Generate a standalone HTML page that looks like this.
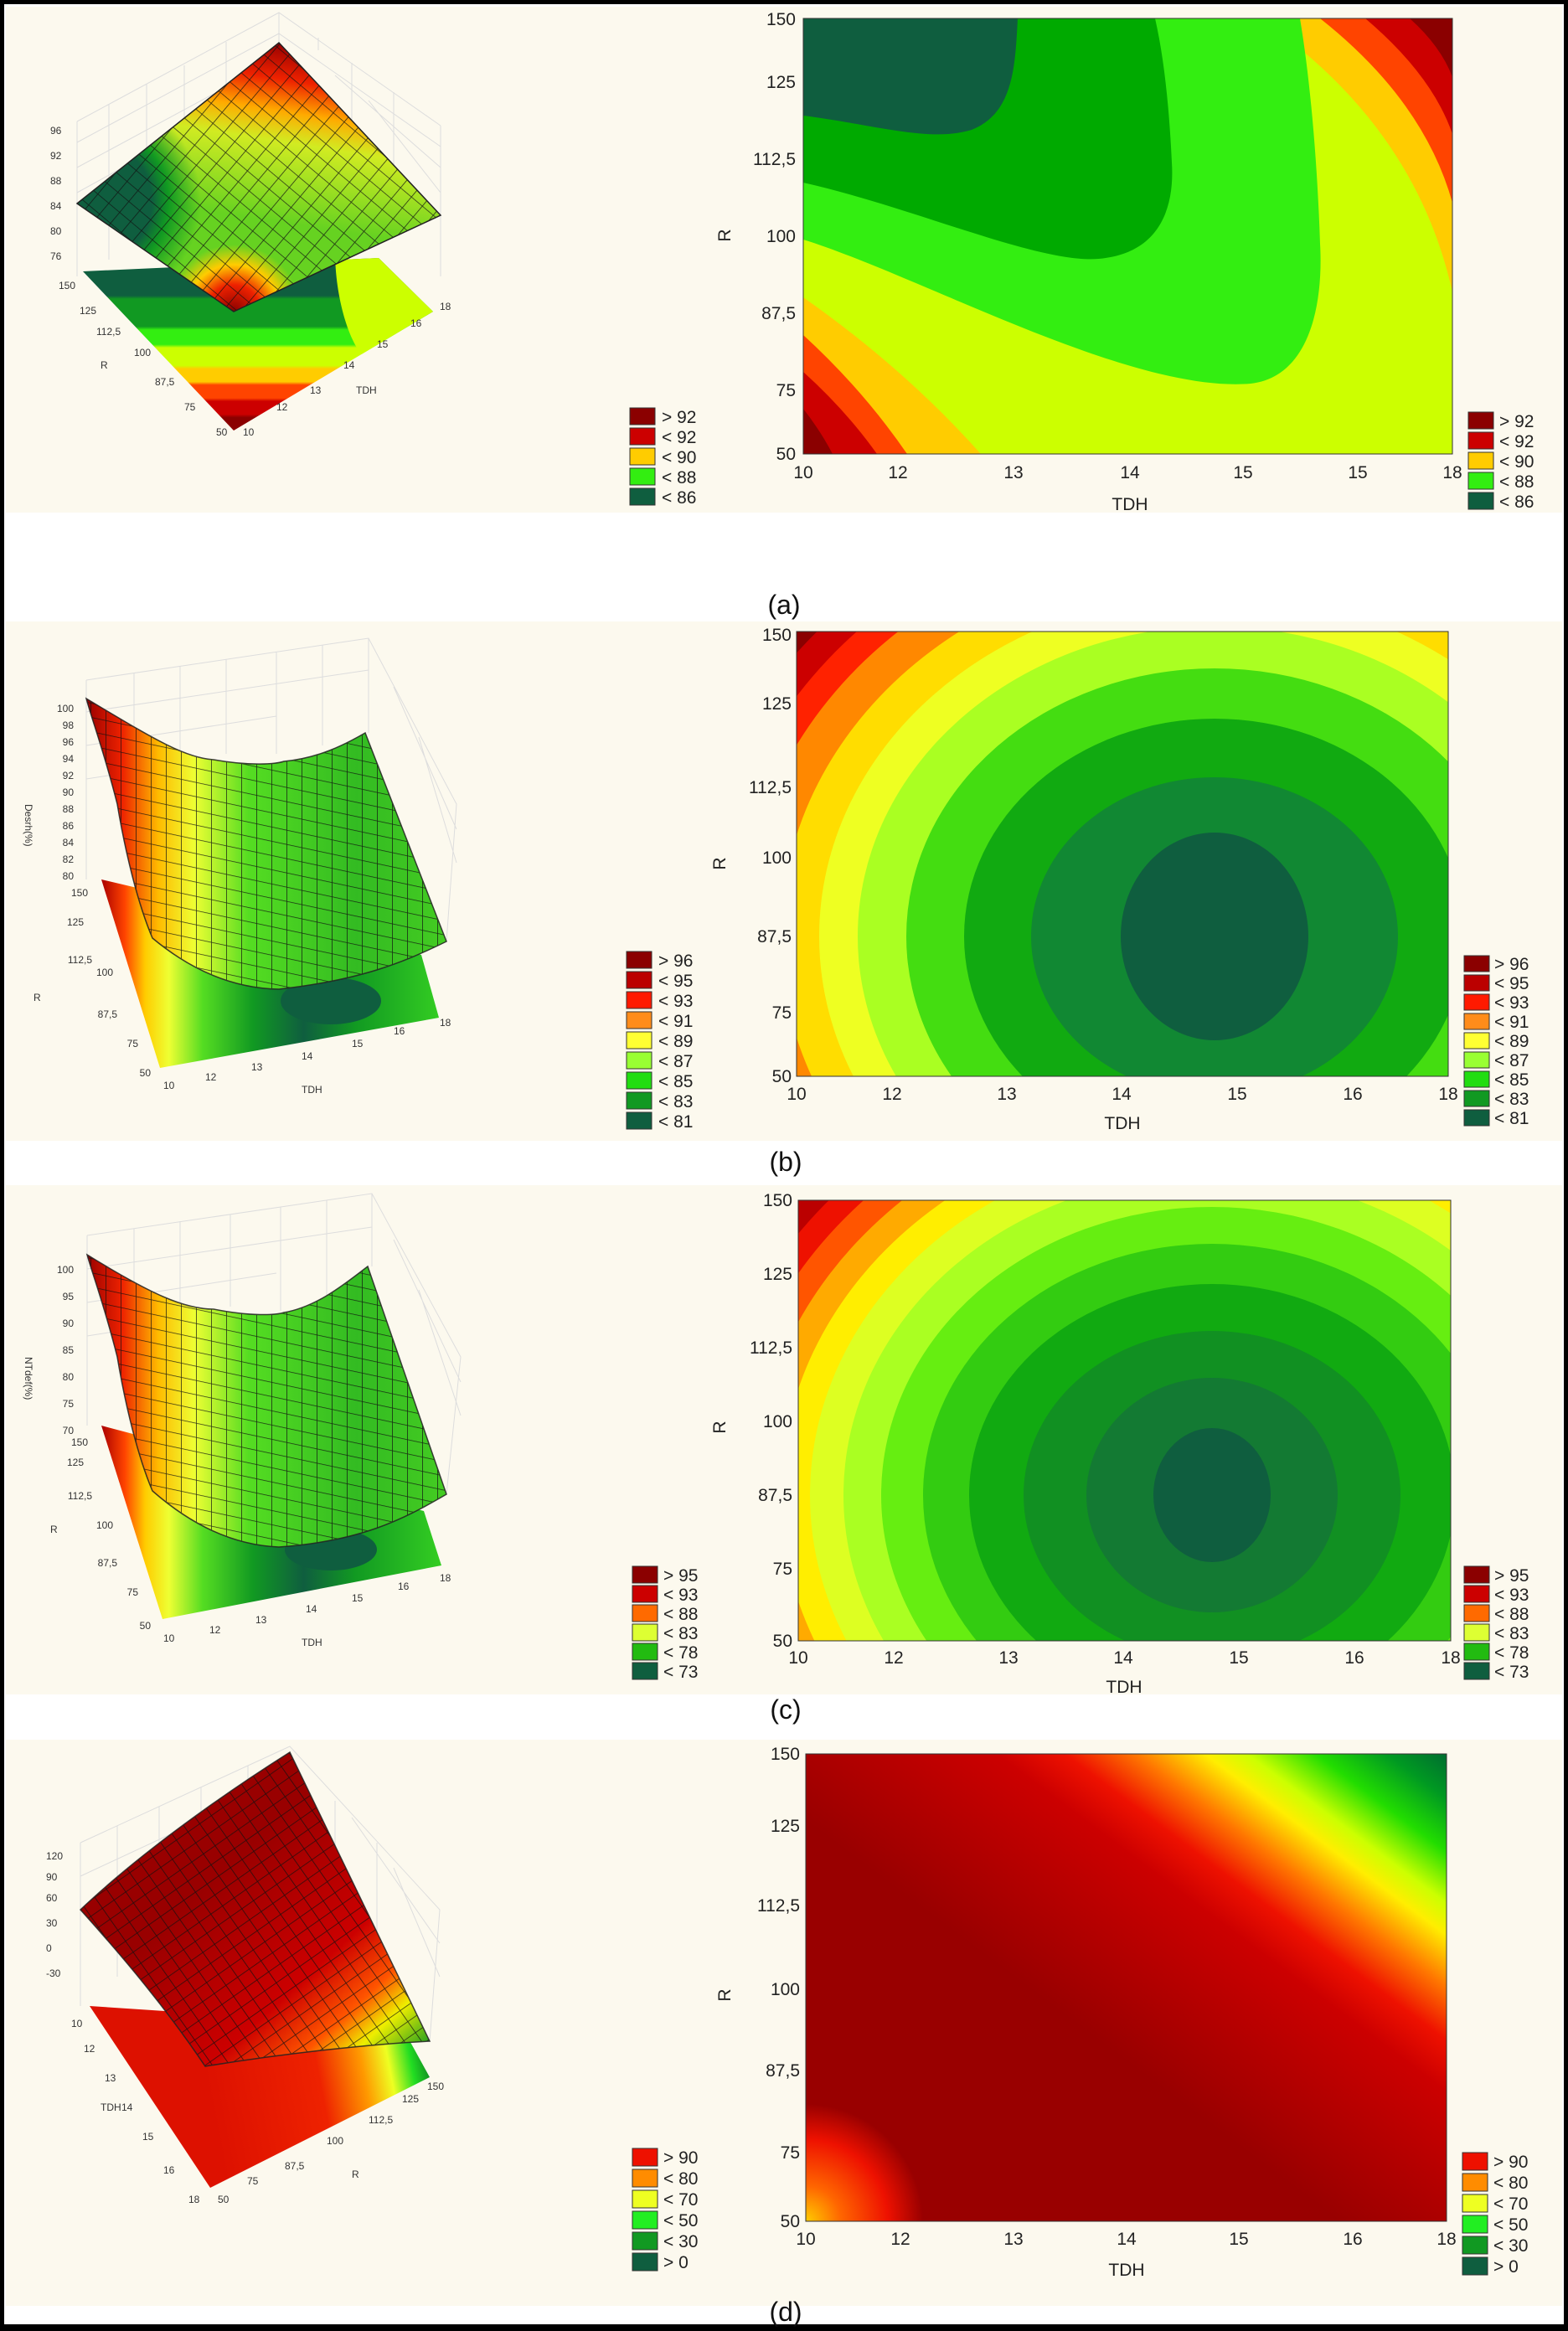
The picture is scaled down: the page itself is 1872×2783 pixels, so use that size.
<!DOCTYPE html>
<html><head><meta charset="utf-8"><style>
html,body{margin:0;padding:0;background:#fff;}
svg{display:block;}
text{font-family:"Liberation Sans",sans-serif;}
</style></head><body>
<svg width="1872" height="2783" viewBox="0 0 1872 2783" xmlns="http://www.w3.org/2000/svg">
<defs>
<pattern id="gridA" width="17" height="17" patternUnits="userSpaceOnUse" patternTransform="rotate(40)"><path d="M0 0H17M0 0V17" stroke="#111" stroke-width="1.6" fill="none"/></pattern>
<pattern id="gridB" width="18" height="17" patternUnits="userSpaceOnUse" patternTransform="skewY(12)"><path d="M0 0H18M0 0V17" stroke="#111" stroke-width="1.6" fill="none"/></pattern>
<pattern id="gridD" width="17" height="16" patternUnits="userSpaceOnUse" patternTransform="rotate(-35)"><path d="M0 0H17M0 0V16" stroke="#111" stroke-width="1.6" fill="none"/></pattern>
<clipPath id="cA"><rect x="959" y="22" width="775" height="520"/></clipPath>
<clipPath id="cB"><rect x="951" y="754" width="778" height="531"/></clipPath>
<clipPath id="cC"><rect x="953" y="1433" width="779" height="526"/></clipPath>
<clipPath id="cAf"><path d="M99,324 L452,308 L517,372 L279,514Z"/></clipPath>
<linearGradient id="fA" gradientUnits="userSpaceOnUse" x1="0" y1="320" x2="0" y2="514">
<stop offset="0" stop-color="#0f5e3f"/><stop offset="0.17" stop-color="#0f5e3f"/><stop offset="0.19" stop-color="#119922"/><stop offset="0.36" stop-color="#119922"/><stop offset="0.38" stop-color="#33ee11"/><stop offset="0.47" stop-color="#33ee11"/><stop offset="0.49" stop-color="#ccff00"/><stop offset="0.6" stop-color="#ccff00"/><stop offset="0.62" stop-color="#ffcc00"/><stop offset="0.7" stop-color="#ffcc00"/><stop offset="0.72" stop-color="#ff4400"/><stop offset="0.8" stop-color="#ff4400"/><stop offset="0.82" stop-color="#cc0000"/><stop offset="0.9" stop-color="#cc0000"/><stop offset="0.92" stop-color="#8b0000"/><stop offset="1" stop-color="#8b0000"/></linearGradient>
<linearGradient id="sA" gradientUnits="userSpaceOnUse" x1="333" y1="51" x2="300" y2="260">
<stop offset="0" stop-color="#990000"/><stop offset="0.2" stop-color="#ee2200"/><stop offset="0.38" stop-color="#ffaa00"/><stop offset="0.55" stop-color="#ddee22" stop-opacity="0.9"/><stop offset="1" stop-color="#ddee22" stop-opacity="0"/></linearGradient>
<radialGradient id="sA2" gradientUnits="userSpaceOnUse" cx="110" cy="240" r="130"><stop offset="0" stop-color="#0f5e3f"/><stop offset="0.55" stop-color="#0f5e3f"/><stop offset="0.7" stop-color="#119922"/><stop offset="1" stop-color="#119922" stop-opacity="0"/></radialGradient>
<radialGradient id="sA3" gradientUnits="userSpaceOnUse" cx="279" cy="372" r="80"><stop offset="0" stop-color="#8b0000"/><stop offset="0.4" stop-color="#ee2200"/><stop offset="0.7" stop-color="#ffcc00"/><stop offset="1" stop-color="#ffcc00" stop-opacity="0"/></radialGradient>
<linearGradient id="sB" gradientUnits="userSpaceOnUse" x1="103" y1="0" x2="533" y2="0">
<stop offset="0" stop-color="#990000"/><stop offset="0.1" stop-color="#ee2200"/><stop offset="0.2" stop-color="#ffbb00"/><stop offset="0.3" stop-color="#eeff33"/><stop offset="0.45" stop-color="#55dd22"/><stop offset="0.75" stop-color="#33bb22"/><stop offset="1" stop-color="#44cc22"/></linearGradient>
<radialGradient id="sB2" gradientUnits="userSpaceOnUse" cx="340" cy="1130" r="170"><stop offset="0" stop-color="#0f5e3f"/><stop offset="0.5" stop-color="#137a33"/><stop offset="1" stop-color="#137a33" stop-opacity="0"/></radialGradient>
<linearGradient id="fB" gradientUnits="userSpaceOnUse" x1="121" y1="0" x2="524" y2="0">
<stop offset="0" stop-color="#aa0000"/><stop offset="0.07" stop-color="#ff4400"/><stop offset="0.13" stop-color="#ffcc00"/><stop offset="0.2" stop-color="#eeff33"/><stop offset="0.3" stop-color="#55dd22"/><stop offset="0.45" stop-color="#119922"/><stop offset="0.6" stop-color="#0f5e3f"/><stop offset="0.75" stop-color="#119922"/><stop offset="1" stop-color="#33cc22"/></linearGradient>
<linearGradient id="gD" gradientUnits="userSpaceOnUse" x1="1229" y1="2374" x2="1547" y2="1950">
<stop offset="0" stop-color="#990000"/><stop offset="0.377" stop-color="#cc0000"/><stop offset="0.47" stop-color="#ee1100"/><stop offset="0.566" stop-color="#ff7700"/><stop offset="0.66" stop-color="#ffee00"/><stop offset="0.717" stop-color="#ccff00"/><stop offset="0.81" stop-color="#22dd00"/><stop offset="0.906" stop-color="#009922"/><stop offset="1" stop-color="#006633"/></linearGradient>
<radialGradient id="gD2" gradientUnits="userSpaceOnUse" cx="962" cy="2652" r="140"><stop offset="0" stop-color="#ffcc00"/><stop offset="0.3" stop-color="#ff6600"/><stop offset="0.7" stop-color="#ee1100"/><stop offset="1" stop-color="#ee1100" stop-opacity="0"/></radialGradient>
<linearGradient id="sD" gradientUnits="userSpaceOnUse" x1="300" y1="2200" x2="520" y2="2440">
<stop offset="0" stop-color="#990000"/><stop offset="0.5" stop-color="#cc0000"/><stop offset="0.7" stop-color="#ff5500"/><stop offset="0.82" stop-color="#eeee00"/><stop offset="1" stop-color="#119922"/></linearGradient>
<linearGradient id="fD" gradientUnits="userSpaceOnUse" x1="250" y1="2500" x2="510" y2="2450">
<stop offset="0" stop-color="#dd1100"/><stop offset="0.5" stop-color="#ee2200"/><stop offset="0.7" stop-color="#ff9900"/><stop offset="0.82" stop-color="#eeff22"/><stop offset="0.92" stop-color="#22dd22"/><stop offset="1" stop-color="#118822"/></linearGradient>
</defs>

<rect x="0" y="0" width="1872" height="2783" fill="#000"/>
<rect x="5" y="5" width="1862" height="2770" fill="#fff"/>
<rect x="7" y="8" width="1858" height="604" fill="#fcf9ee"/>
<rect x="7" y="742" width="1858" height="620" fill="#fcf9ee"/>
<rect x="7" y="1415" width="1858" height="608" fill="#fcf9ee"/>
<rect x="7" y="2077" width="1858" height="676" fill="#fcf9ee"/>

<g font-size="32" fill="#111" text-anchor="middle">
<text x="936" y="733">(a)</text>
<text x="938" y="1398">(b)</text>
<text x="938" y="2052">(c)</text>
<text x="938" y="2771">(d)</text>
</g>

<!-- ===== Panel A contour ===== -->
<g clip-path="url(#cA)">
<rect x="959" y="22" width="775" height="520" fill="#ccff00"/>
<path d="M959,355 Q1080,440 1171,542 L959,542Z" fill="#ffcc00"/>
<path d="M959,400 Q1030,465 1083,542 L959,542Z" fill="#ff4400"/>
<path d="M959,444 Q1010,490 1047,542 L959,542Z" fill="#cc0000"/>
<path d="M959,488 Q980,515 994,542 L959,542Z" fill="#8b0000"/>
<path d="M1504,22 Q1690,150 1734,349 L1734,22Z" fill="#ffcc00"/>
<path d="M1576,22 Q1700,120 1734,242 L1734,22Z" fill="#ff4400"/>
<path d="M1630,22 Q1710,90 1734,160 L1734,22Z" fill="#cc0000"/>
<path d="M1683,22 Q1720,55 1734,92 L1734,22Z" fill="#8b0000"/>
<path d="M959,286 C1100,330 1350,470 1493,458 C1565,450 1580,360 1576,291 C1573,200 1565,100 1552,22 L959,22Z" fill="#33ee11"/>
<path d="M959,218 C1100,250 1250,320 1320,308 C1390,298 1402,240 1399,194 C1396,130 1390,70 1379,22 L959,22Z" fill="#00aa00"/>
<path d="M959,138 C1050,150 1110,170 1160,155 C1210,135 1212,80 1215,22 L959,22Z" fill="#0f5e3f"/>
</g>
<rect x="959" y="22" width="775" height="520" fill="none" stroke="#333" stroke-width="1"/>

<!-- ===== Panel B contour ===== -->
<g clip-path="url(#cB)">
<rect x="951" y="754" width="778" height="531" fill="#8b0000"/>
<ellipse cx="1450" cy="1118" rx="633" ry="550" fill="#cc0000"/>
<ellipse cx="1450" cy="1118" rx="598" ry="520" fill="#ff2200"/>
<ellipse cx="1450" cy="1118" rx="564" ry="490" fill="#ff8800"/>
<ellipse cx="1450" cy="1118" rx="518" ry="450" fill="#ffdd00"/>
<ellipse cx="1450" cy="1118" rx="472" ry="410" fill="#eeff22"/>
<ellipse cx="1450" cy="1118" rx="426" ry="370" fill="#aaff22"/>
<ellipse cx="1450" cy="1118" rx="368" ry="320" fill="#44dd11"/>
<ellipse cx="1450" cy="1118" rx="299" ry="260" fill="#11aa11"/>
<ellipse cx="1450" cy="1118" rx="219" ry="190" fill="#118833"/>
<ellipse cx="1450" cy="1118" rx="112" ry="124" fill="#0f5e3f"/>
</g>
<rect x="951" y="754" width="778" height="531" fill="none" stroke="#333" stroke-width="1"/>

<!-- ===== Panel C contour ===== -->
<g clip-path="url(#cC)">
<rect x="953" y="1433" width="779" height="526" fill="#8b0000"/>
<ellipse cx="1447" cy="1785" rx="640" ry="560" fill="#bb0000"/>
<ellipse cx="1447" cy="1785" rx="610" ry="532" fill="#ee1100"/>
<ellipse cx="1447" cy="1785" rx="580" ry="505" fill="#ff5500"/>
<ellipse cx="1447" cy="1785" rx="548" ry="477" fill="#ffaa00"/>
<ellipse cx="1447" cy="1785" rx="515" ry="448" fill="#ffee00"/>
<ellipse cx="1447" cy="1785" rx="480" ry="418" fill="#ddff22"/>
<ellipse cx="1447" cy="1785" rx="440" ry="383" fill="#aaff22"/>
<ellipse cx="1447" cy="1785" rx="395" ry="344" fill="#66ee11"/>
<ellipse cx="1447" cy="1785" rx="345" ry="300" fill="#33cc11"/>
<ellipse cx="1447" cy="1785" rx="290" ry="252" fill="#11aa11"/>
<ellipse cx="1447" cy="1785" rx="225" ry="196" fill="#119022"/>
<ellipse cx="1447" cy="1785" rx="150" ry="140" fill="#137a33"/>
<ellipse cx="1447" cy="1785" rx="70" ry="80" fill="#0f5e3f"/>
</g>
<rect x="953" y="1433" width="779" height="526" fill="none" stroke="#333" stroke-width="1"/>

<!-- ===== Panel D contour ===== -->
<rect x="962" y="2094" width="765" height="558" fill="url(#gD)"/>
<rect x="962" y="2094" width="765" height="558" fill="url(#gD2)"/>
<rect x="962" y="2094" width="765" height="558" fill="none" stroke="#333" stroke-width="1"/>

<g font-size="21" fill="#222" text-anchor="end">
<text x="950" y="30">150</text><text x="950" y="105">125</text><text x="950" y="197">112,5</text><text x="950" y="289">100</text><text x="950" y="381">87,5</text><text x="950" y="473">75</text><text x="950" y="549">50</text>
<text x="945" y="765">150</text><text x="945" y="847">125</text><text x="945" y="947">112,5</text><text x="945" y="1031">100</text><text x="945" y="1125">87,5</text><text x="945" y="1216">75</text><text x="945" y="1292">50</text>
<text x="946" y="1440">150</text><text x="946" y="1528">125</text><text x="946" y="1616">112,5</text><text x="946" y="1704">100</text><text x="946" y="1792">87,5</text><text x="946" y="1880">75</text><text x="946" y="1966">50</text>
<text x="955" y="2101">150</text><text x="955" y="2187">125</text><text x="955" y="2282">112,5</text><text x="955" y="2382">100</text><text x="955" y="2479">87,5</text><text x="955" y="2577">75</text><text x="955" y="2659">50</text>
</g>
<g font-size="21" fill="#222" text-anchor="middle">
<text x="872" y="281" transform="rotate(-90 872 281)">R</text>
<text x="866" y="1031" transform="rotate(-90 866 1031)">R</text>
<text x="866" y="1704" transform="rotate(-90 866 1704)">R</text>
<text x="872" y="2382" transform="rotate(-90 872 2382)">R</text>
<g>
<text x="959" y="571">10</text><text x="1072" y="571">12</text><text x="1210" y="571">13</text><text x="1349" y="571">14</text><text x="1484" y="571">15</text><text x="1621" y="571">15</text><text x="1734" y="571">18</text>
<text x="1349" y="609">TDH</text>
</g>
<g>
<text x="951" y="1313">10</text><text x="1065" y="1313">12</text><text x="1202" y="1313">13</text><text x="1339" y="1313">14</text><text x="1477" y="1313">15</text><text x="1615" y="1313">16</text><text x="1729" y="1313">18</text>
<text x="1340" y="1348">TDH</text>
</g>
<g>
<text x="953" y="1986">10</text><text x="1067" y="1986">12</text><text x="1204" y="1986">13</text><text x="1341" y="1986">14</text><text x="1479" y="1986">15</text><text x="1617" y="1986">16</text><text x="1732" y="1986">18</text>
<text x="1342" y="2021">TDH</text>
</g>
<g>
<text x="962" y="2680">10</text><text x="1075" y="2680">12</text><text x="1210" y="2680">13</text><text x="1345" y="2680">14</text><text x="1479" y="2680">15</text><text x="1615" y="2680">16</text><text x="1727" y="2680">18</text>
<text x="1345" y="2717">TDH</text>
</g>
</g>

<!-- ===== 3D Panel A ===== -->
<g stroke="#ddd" stroke-width="1" fill="none">
<path d="M92,145 L333,15 L526,150 M92,145 V330 M333,15 V51 M526,150 V330 M130,125 V310 M175,100 V290 M220,78 V270 M270,50 V250 M380,45 V60 M420,75 V200 M470,110 V240"/>
<path d="M92,170 L333,40 L526,175 M92,200 L333,70 M92,230 L250,143 M400,90 L526,200 M440,120 L526,230"/>
</g>
<path d="M99,324 L452,308 L517,372 L279,514Z" fill="url(#fA)"/>
<g clip-path="url(#cAf)">
<path d="M400,300 C400,360 420,420 440,430 L530,372 L530,300Z" fill="#ccff00"/>
<path d="M360,300 C345,340 350,385 380,400 L300,400 L300,300Z" fill="#33ee11" opacity="0"/>
</g>
<path d="M333,51 L526,257 L279,372 L92,243Z" fill="#99dd22"/>
<path d="M333,51 L526,257 L279,372 L92,243Z" fill="#44cc22" opacity="0.6"/>
<path d="M333,51 L526,257 L279,372 L92,243Z" fill="url(#sA)"/>
<path d="M333,51 L526,257 L279,372 L92,243Z" fill="url(#sA2)"/>
<path d="M333,51 L526,257 L279,372 L92,243Z" fill="url(#sA3)"/>
<path d="M333,51 L526,257 L279,372 L92,243Z" fill="url(#gridA)" opacity="0.85"/>
<path d="M333,51 L526,257 L279,372 L92,243Z" fill="none" stroke="#222" stroke-width="1.5"/>
<g font-size="12" fill="#333">
<text x="60" y="160">96</text><text x="60" y="190">92</text><text x="60" y="220">88</text><text x="60" y="250">84</text><text x="60" y="280">80</text><text x="60" y="310">76</text>
<text x="70" y="345">150</text><text x="95" y="375">125</text><text x="115" y="400">112,5</text><text x="160" y="425">100</text><text x="185" y="460">87,5</text><text x="220" y="490">75</text><text x="258" y="520">50</text>
<text x="290" y="520">10</text><text x="330" y="490">12</text><text x="370" y="470">13</text><text x="410" y="440">14</text><text x="450" y="415">15</text><text x="490" y="390">16</text><text x="525" y="370">18</text>
<text x="425" y="470">TDH</text><text x="120" y="440">R</text>
</g>

<!-- ===== 3D Panel B ===== -->
<g stroke="#ddd" stroke-width="1" fill="none">
<path d="M103,812 L440,762 L545,960 L533,1124 M103,812 V1050 M160,803 V1045 M215,795 V940 M270,787 V900 M330,778 V900 M385,770 V890 M440,762 V875 M103,850 L440,800 M103,890 L330,855 M103,930 L200,915 M470,820 L545,990 M500,880 L545,1030"/>
</g>
<path d="M121,1050 L503,1140 L524,1215 L191,1275Z" fill="url(#fB)"/>
<ellipse cx="395" cy="1195" rx="60" ry="28" fill="#0f5e3f"/>
<path id="sfB" d="M103,834 C180,880 220,905 255,907 C300,915 330,912 339,909 C380,905 410,890 436,875 L533,1124 C480,1150 430,1170 333,1181 C280,1180 230,1160 182,1120 C165,1080 150,1020 140,960 C125,900 110,860 103,834Z" fill="url(#sB)"/>
<use href="#sfB" fill="url(#sB2)"/>
<path d="M103,834 C180,880 220,905 255,907 C300,915 330,912 339,909 C380,905 410,890 436,875 L533,1124 C480,1150 430,1170 333,1181 C280,1180 230,1160 182,1120 C165,1080 150,1020 140,960 C125,900 110,860 103,834Z" fill="url(#gridB)" opacity="0.85" stroke="#222" stroke-width="1.5"/>
<g font-size="12" fill="#333" text-anchor="end">
<text x="88" y="850">100</text><text x="88" y="870">98</text><text x="88" y="890">96</text><text x="88" y="910">94</text><text x="88" y="930">92</text><text x="88" y="950">90</text><text x="88" y="970">88</text><text x="88" y="990">86</text><text x="88" y="1010">84</text><text x="88" y="1030">82</text><text x="88" y="1050">80</text>
<text x="105" y="1070">150</text><text x="100" y="1105">125</text><text x="110" y="1150">112,5</text><text x="135" y="1165">100</text><text x="140" y="1215">87,5</text><text x="165" y="1250">75</text><text x="180" y="1285">50</text>
</g>
<g font-size="12" fill="#333">
<text x="195" y="1300">10</text><text x="245" y="1290">12</text><text x="300" y="1278">13</text><text x="360" y="1265">14</text><text x="420" y="1250">15</text><text x="470" y="1235">16</text><text x="525" y="1225">18</text>
<text x="360" y="1305">TDH</text><text x="40" y="1195">R</text>
<text x="30" y="960" transform="rotate(90 30 960)">Desrh(%)</text>
</g>

<!-- ===== 3D Panel C ===== -->
<g stroke="#ddd" stroke-width="1" fill="none">
<path d="M104,1475 L444,1425 L550,1620 L533,1784 M104,1475 V1702 M160,1467 V1700 M215,1458 V1600 M275,1450 V1560 M335,1441 V1565 M390,1433 V1560 M444,1425 V1512 M104,1515 L444,1465 M104,1555 L330,1520 M104,1595 L200,1580 M470,1480 L550,1650 M500,1540 L550,1690"/>
</g>
<path d="M121,1702 L506,1804 L527,1869 L194,1933Z" fill="url(#fB)"/>
<ellipse cx="395" cy="1850" rx="55" ry="25" fill="#0f5e3f"/>
<path id="sfC" d="M104,1498 C180,1545 220,1563 255,1563 C300,1572 330,1570 339,1567 C380,1560 415,1530 439,1512 L533,1784 C480,1815 430,1840 333,1847 C280,1845 230,1822 182,1780 C165,1740 150,1680 140,1620 C125,1560 110,1520 104,1498Z" fill="url(#sB)"/>
<path d="M104,1498 C180,1545 220,1563 255,1563 C300,1572 330,1570 339,1567 C380,1560 415,1530 439,1512 L533,1784 C480,1815 430,1840 333,1847 C280,1845 230,1822 182,1780 C165,1740 150,1680 140,1620 C125,1560 110,1520 104,1498Z" fill="url(#sB2)" transform="translate(0,665)"/>
<path d="M104,1498 C180,1545 220,1563 255,1563 C300,1572 330,1570 339,1567 C380,1560 415,1530 439,1512 L533,1784 C480,1815 430,1840 333,1847 C280,1845 230,1822 182,1780 C165,1740 150,1680 140,1620 C125,1560 110,1520 104,1498Z" fill="url(#gridB)" opacity="0.85" stroke="#222" stroke-width="1.5"/>
<g font-size="12" fill="#333" text-anchor="end">
<text x="88" y="1520">100</text><text x="88" y="1552">95</text><text x="88" y="1584">90</text><text x="88" y="1616">85</text><text x="88" y="1648">80</text><text x="88" y="1680">75</text><text x="88" y="1712">70</text>
<text x="105" y="1726">150</text><text x="100" y="1750">125</text><text x="110" y="1790">112,5</text><text x="135" y="1825">100</text><text x="140" y="1870">87,5</text><text x="165" y="1905">75</text><text x="180" y="1945">50</text>
</g>
<g font-size="12" fill="#333">
<text x="195" y="1960">10</text><text x="250" y="1950">12</text><text x="305" y="1938">13</text><text x="365" y="1925">14</text><text x="420" y="1912">15</text><text x="475" y="1898">16</text><text x="525" y="1888">18</text>
<text x="360" y="1965">TDH</text><text x="60" y="1830">R</text>
<text x="30" y="1620" transform="rotate(90 30 1620)">NTdef(%)</text>
</g>

<!-- ===== 3D Panel D ===== -->
<g stroke="#ddd" stroke-width="1" fill="none">
<path d="M96,2200 L346,2085 L525,2280 L513,2437 M96,2200 V2395 M140,2180 V2360 M190,2157 V2300 M240,2134 V2200 M296,2108 V2150 M400,2150 V2300 M450,2200 V2350 M96,2240 L300,2145 M96,2280 L200,2232 M420,2170 L525,2320 M470,2230 L525,2360"/>
</g>
<path d="M107,2395 L480,2420 L513,2480 L251,2612Z" fill="url(#fD)"/>
<path d="M346,2092 L513,2437 C450,2440 350,2450 245,2467 C200,2400 150,2340 96,2280 C170,2210 270,2140 346,2092Z" fill="url(#sD)"/>
<path d="M346,2092 L513,2437 C450,2440 350,2450 245,2467 C200,2400 150,2340 96,2280 C170,2210 270,2140 346,2092Z" fill="url(#gridD)" opacity="0.85" stroke="#222" stroke-width="1.5"/>
<g font-size="12" fill="#333">
<text x="55" y="2220">120</text><text x="55" y="2245">90</text><text x="55" y="2270">60</text><text x="55" y="2300">30</text><text x="55" y="2330">0</text><text x="55" y="2360">-30</text>
<text x="85" y="2420">10</text><text x="100" y="2450">12</text><text x="125" y="2485">13</text><text x="145" y="2520">14</text><text x="170" y="2555">15</text><text x="195" y="2595">16</text><text x="225" y="2630">18</text>
<text x="260" y="2630">50</text><text x="295" y="2608">75</text><text x="340" y="2590">87,5</text><text x="390" y="2560">100</text><text x="440" y="2535">112,5</text><text x="480" y="2510">125</text><text x="510" y="2495">150</text>
<text x="120" y="2520">TDH</text><text x="420" y="2600">R</text>
</g>

<!-- ===== Legends ===== -->
<g stroke="#333" stroke-width="1">
<rect x="752" y="487" width="30" height="20" fill="#8b0000"/><rect x="752" y="511" width="30" height="20" fill="#cc0000"/><rect x="752" y="535" width="30" height="20" fill="#ffcc00"/><rect x="752" y="559" width="30" height="20" fill="#33ee11"/><rect x="752" y="583" width="30" height="20" fill="#0f5e3f"/>
<rect x="1753" y="492" width="30" height="20" fill="#8b0000"/><rect x="1753" y="516" width="30" height="20" fill="#cc0000"/><rect x="1753" y="540" width="30" height="20" fill="#ffcc00"/><rect x="1753" y="564" width="30" height="20" fill="#33ee11"/><rect x="1753" y="588" width="30" height="20" fill="#0f5e3f"/>
<rect x="748" y="1136" width="30" height="20" fill="#8b0000"/><rect x="748" y="1160" width="30" height="20" fill="#bb0000"/><rect x="748" y="1184" width="30" height="20" fill="#ff1a00"/><rect x="748" y="1208" width="30" height="20" fill="#ff8c1a"/><rect x="748" y="1232" width="30" height="20" fill="#ffff33"/><rect x="748" y="1256" width="30" height="20" fill="#99ff33"/><rect x="748" y="1280" width="30" height="20" fill="#22dd11"/><rect x="748" y="1304" width="30" height="20" fill="#119922"/><rect x="748" y="1328" width="30" height="20" fill="#0f5e3f"/>
<rect x="1748" y="1141" width="30" height="19" fill="#8b0000"/><rect x="1748" y="1164" width="30" height="19" fill="#bb0000"/><rect x="1748" y="1187" width="30" height="19" fill="#ff1a00"/><rect x="1748" y="1210" width="30" height="19" fill="#ff8c1a"/><rect x="1748" y="1233" width="30" height="19" fill="#ffff33"/><rect x="1748" y="1256" width="30" height="19" fill="#99ff33"/><rect x="1748" y="1279" width="30" height="19" fill="#22dd11"/><rect x="1748" y="1302" width="30" height="19" fill="#119922"/><rect x="1748" y="1325" width="30" height="19" fill="#0f5e3f"/>
<rect x="755" y="1870" width="30" height="20" fill="#8b0000"/><rect x="755" y="1893" width="30" height="20" fill="#cc0000"/><rect x="755" y="1916" width="30" height="20" fill="#ff6a00"/><rect x="755" y="1939" width="30" height="20" fill="#ddff33"/><rect x="755" y="1962" width="30" height="20" fill="#22bb11"/><rect x="755" y="1985" width="30" height="20" fill="#0f5e3f"/>
<rect x="1748" y="1870" width="30" height="20" fill="#8b0000"/><rect x="1748" y="1893" width="30" height="20" fill="#cc0000"/><rect x="1748" y="1916" width="30" height="20" fill="#ff6a00"/><rect x="1748" y="1939" width="30" height="20" fill="#ddff33"/><rect x="1748" y="1962" width="30" height="20" fill="#22bb11"/><rect x="1748" y="1985" width="30" height="20" fill="#0f5e3f"/>
<rect x="755" y="2565" width="30" height="21" fill="#ee1100"/><rect x="755" y="2590" width="30" height="21" fill="#ff8c00"/><rect x="755" y="2615" width="30" height="21" fill="#eeff22"/><rect x="755" y="2640" width="30" height="21" fill="#22ee22"/><rect x="755" y="2665" width="30" height="21" fill="#119922"/><rect x="755" y="2690" width="30" height="21" fill="#0f5e3f"/>
<rect x="1746" y="2570" width="30" height="21" fill="#ee1100"/><rect x="1746" y="2595" width="30" height="21" fill="#ff8c00"/><rect x="1746" y="2620" width="30" height="21" fill="#eeff22"/><rect x="1746" y="2645" width="30" height="21" fill="#22ee22"/><rect x="1746" y="2670" width="30" height="21" fill="#119922"/><rect x="1746" y="2695" width="30" height="21" fill="#0f5e3f"/>
</g>
<g font-size="21" fill="#222">
<text x="790" y="505">&gt; 92</text><text x="790" y="529">&lt; 92</text><text x="790" y="553">&lt; 90</text><text x="790" y="577">&lt; 88</text><text x="790" y="601">&lt; 86</text>
<text x="1790" y="510">&gt; 92</text><text x="1790" y="534">&lt; 92</text><text x="1790" y="558">&lt; 90</text><text x="1790" y="582">&lt; 88</text><text x="1790" y="606">&lt; 86</text>
<text x="786" y="1154">&gt; 96</text><text x="786" y="1178">&lt; 95</text><text x="786" y="1202">&lt; 93</text><text x="786" y="1226">&lt; 91</text><text x="786" y="1250">&lt; 89</text><text x="786" y="1274">&lt; 87</text><text x="786" y="1298">&lt; 85</text><text x="786" y="1322">&lt; 83</text><text x="786" y="1346">&lt; 81</text>
<text x="1784" y="1158">&gt; 96</text><text x="1784" y="1181">&lt; 95</text><text x="1784" y="1204">&lt; 93</text><text x="1784" y="1227">&lt; 91</text><text x="1784" y="1250">&lt; 89</text><text x="1784" y="1273">&lt; 87</text><text x="1784" y="1296">&lt; 85</text><text x="1784" y="1319">&lt; 83</text><text x="1784" y="1342">&lt; 81</text>
<text x="792" y="1888">&gt; 95</text><text x="792" y="1911">&lt; 93</text><text x="792" y="1934">&lt; 88</text><text x="792" y="1957">&lt; 83</text><text x="792" y="1980">&lt; 78</text><text x="792" y="2003">&lt; 73</text>
<text x="1784" y="1888">&gt; 95</text><text x="1784" y="1911">&lt; 93</text><text x="1784" y="1934">&lt; 88</text><text x="1784" y="1957">&lt; 83</text><text x="1784" y="1980">&lt; 78</text><text x="1784" y="2003">&lt; 73</text>
<text x="792" y="2583">&gt; 90</text><text x="792" y="2608">&lt; 80</text><text x="792" y="2633">&lt; 70</text><text x="792" y="2658">&lt; 50</text><text x="792" y="2683">&lt; 30</text><text x="792" y="2708">&gt; 0</text>
<text x="1783" y="2588">&gt; 90</text><text x="1783" y="2613">&lt; 80</text><text x="1783" y="2638">&lt; 70</text><text x="1783" y="2663">&lt; 50</text><text x="1783" y="2688">&lt; 30</text><text x="1783" y="2713">&gt; 0</text>
</g>
</svg>
</body></html>
